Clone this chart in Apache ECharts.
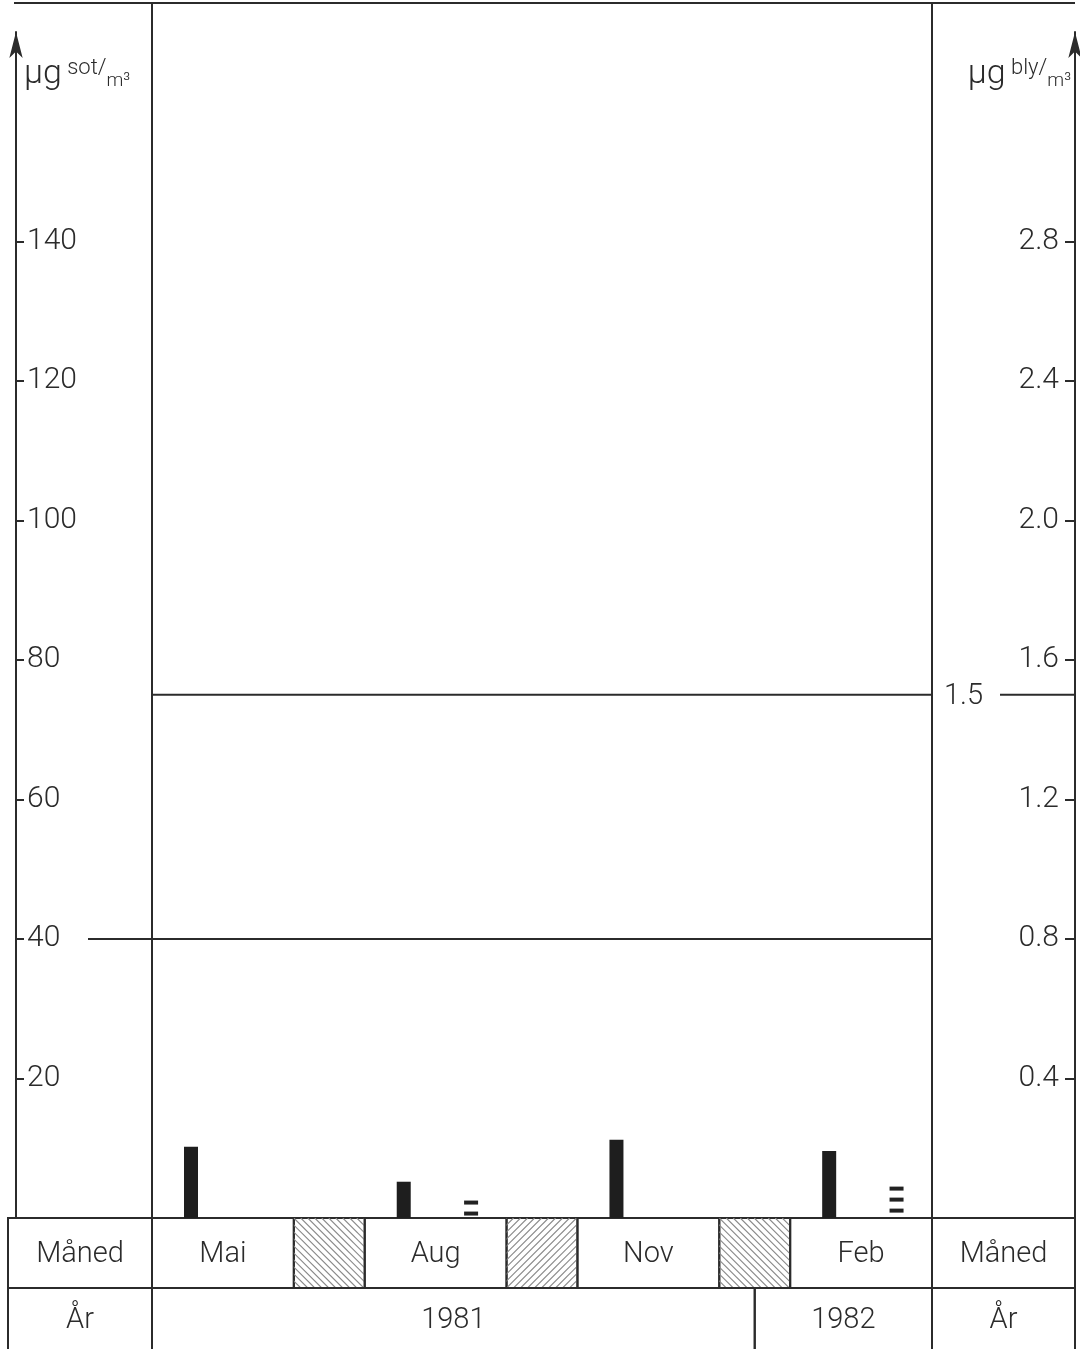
<!DOCTYPE html>
<html>
<head>
<meta charset="utf-8">
<script src="https://cdn.jsdelivr.net/npm/echarts@6/dist/echarts.min.js"></script>
<style>
  html, body { margin: 0; padding: 0; background: #fff; }
  #chart { width: 1080px; height: 1349px; }
</style>
</head>
<body>
<div id="chart"></div>
<script>
// data
var months = ['Mai', 'Aug', 'Nov', 'Feb'];
var years = ['1981', '1982'];
var rowLabels = ['Måned', 'År'];
var sotValues = [10.2, 5.2, 11.2, 9.6];      // µg sot/m3
var blyValues = [null, 0.05, null, 0.09];    // µg bly/m3 (drawn as dashes)
var sotTicks = [20, 40, 60, 80, 100, 120, 140];
var blyTicks = [0.4, 0.8, 1.2, 1.6, 2.0, 2.4, 2.8];
var sotLimit = 40;
var blyLimit = 1.5;

// layout: each month is 2 units wide, the gap between months 1 unit
var yearBreak = 8.5;
var hatchDirs = ['\\', '/', '\\'];
var gridLeft = 152, gridRightX = 932, axisLeftX = 16, axisRightX = 1075;
var ink = '#2b2b2b';
var font = 'Roboto';

var cells = [];
months.forEach(function (m, i) {
  cells.push({ x0: 3 * i, x1: 3 * i + 2, row: 0, text: m });
  if (i < months.length - 1) {
    cells.push({ x0: 3 * i + 2, x1: 3 * i + 3, row: 0, hatch: hatchDirs[i] });
  }
});
cells.push({ x0: 0, x1: yearBreak, row: 1, text: years[0] });
cells.push({ x0: yearBreak, x1: 3 * months.length - 1, row: 1, text: years[1] });
rowLabels.forEach(function (t, r) {
  cells.push({ side: 'left', row: r, text: t });
  cells.push({ side: 'right', row: r, text: t });
});

var rowH = [70, 62];

var chart = echarts.init(document.getElementById('chart'));

function renderTable(params, api) {
  var c = cells[params.dataIndex];
  var base = api.coord([0, 0])[1];
  var xa, xb;
  if (c.side === 'left') {
    xa = 8; xb = api.coord([0, 0])[0];
  } else if (c.side === 'right') {
    xa = api.coord([11, 0])[0]; xb = axisRightX;
  } else {
    xa = api.coord([c.x0, 0])[0]; xb = api.coord([c.x1, 0])[0];
  }
  var ya = base + (c.row === 0 ? 0 : rowH[0]);
  var h = rowH[c.row];
  var children = [{
    type: 'rect',
    shape: { x: xa, y: ya, width: xb - xa, height: h },
    style: { fill: 'none', stroke: ink, lineWidth: 2 }
  }];
  if (c.hatch) {
    var lines = [];
    var w = xb - xa;
    for (var k = -h; k < w + h; k += 7) {
      if (c.hatch === '\\') {
        lines.push({ type: 'line', shape: { x1: xa + k, y1: ya, x2: xa + k + h, y2: ya + h },
          style: { stroke: '#888', lineWidth: 1.1 } });
      } else {
        lines.push({ type: 'line', shape: { x1: xa + k, y1: ya + h, x2: xa + k + h, y2: ya },
          style: { stroke: '#888', lineWidth: 1.1 } });
      }
    }
    children.push({
      type: 'group',
      clipPath: { type: 'rect', shape: { x: xa, y: ya, width: w, height: h } },
      children: lines
    });
  }
  if (c.text) {
    children.push({
      type: 'text',
      style: {
        x: (xa + xb) / 2, y: ya + h / 2 + 2, text: c.text,
        align: 'center', verticalAlign: 'middle',
        fill: ink, font: '300 29px ' + font
      }
    });
  }
  return { type: 'group', children: children };
}

function renderDashes(params, api) {
  var top = api.coord([api.value(0), api.value(1)]);
  var base = api.coord([api.value(0), 0])[1];
  var dashes = [];
  for (var y = top[1]; y < base - 1; y += 11) {
    dashes.push({ type: 'rect', shape: { x: top[0] - 7, y: y, width: 14, height: 4 },
      style: { fill: '#222' } });
  }
  return { type: 'group', children: dashes };
}

function renderSotLimit(params, api) {
  var y = api.coord([0, api.value(1)])[1];
  return { type: 'line', shape: { x1: gridLeft - 64, y1: y, x2: gridRightX, y2: y },
    style: { stroke: ink, lineWidth: 2 } };
}

function renderBlyLimit(params, api) {
  var y = api.coord([0, api.value(1)])[1];
  return {
    type: 'group',
    children: [
      { type: 'line', shape: { x1: gridLeft, y1: y, x2: gridRightX, y2: y },
        style: { stroke: ink, lineWidth: 2 } },
      { type: 'text', style: { x: gridRightX + 12, y: y + 2, text: String(api.value(1)),
        align: 'left', verticalAlign: 'middle', fill: ink, font: '300 29px ' + font } },
      { type: 'line', shape: { x1: gridRightX + 68, y1: y, x2: axisRightX, y2: y },
        style: { stroke: ink, lineWidth: 2 } }
    ]
  };
}

var nameRich = {
  u: { fontSize: 34, fontFamily: font, fontWeight: 300, color: ink },
  s: { fontSize: 22, fontFamily: font, fontWeight: 300, color: ink, verticalAlign: 'top' },
  m: { fontSize: 19, fontFamily: font, fontWeight: 300, color: ink, verticalAlign: 'bottom' }
};

chart.setOption({
  backgroundColor: '#fff',
  animation: false,
  grid: { left: gridLeft, right: 1080 - gridRightX, top: 32, bottom: 131 },
  xAxis: { type: 'value', min: 0, max: 11, show: false },
  yAxis: [{
    type: 'value', position: 'left', offset: gridLeft - axisLeftX,
    min: 0, max: 170,
    name: '{u|µg}{s| sot/}{m|m³}',
    nameLocation: 'end', nameGap: -42,
    nameTextStyle: { align: 'left', verticalAlign: 'middle', padding: [0, 0, 0, 8], rich: nameRich },
    axisLine: { show: true, onZero: false, symbol: ['none', 'arrow'], symbolSize: [10, 26],
      lineStyle: { color: ink, width: 2 } },
    axisTick: { show: true, inside: true, length: 8, customValues: sotTicks,
      lineStyle: { color: ink, width: 2 } },
    axisLabel: { inside: true, margin: 11, customValues: sotTicks,
      color: ink, fontSize: 30, fontFamily: font, fontWeight: 300 },
    splitLine: { show: false }
  }, {
    type: 'value', position: 'right', offset: axisRightX - gridRightX,
    min: 0, max: 3.4,
    name: '{u|µg}{s| bly/}{m|m³}',
    nameLocation: 'end', nameGap: -42,
    nameTextStyle: { align: 'right', verticalAlign: 'middle', padding: [0, 4, 0, 0], rich: nameRich },
    axisLine: { show: true, onZero: false, symbol: ['none', 'arrow'], symbolSize: [10, 26],
      lineStyle: { color: ink, width: 2 } },
    axisTick: { show: true, inside: true, length: 10, customValues: blyTicks,
      lineStyle: { color: ink, width: 2 } },
    axisLabel: { inside: true, margin: 16, customValues: blyTicks,
      formatter: function (v) { return v.toFixed(1); },
      color: ink, fontSize: 30, fontFamily: font, fontWeight: 300 },
    splitLine: { show: false }
  }],
  graphic: [
    { type: 'line', shape: { x1: 14, y1: 3, x2: axisRightX, y2: 3 }, style: { stroke: ink, lineWidth: 2 } },
    { type: 'line', shape: { x1: gridLeft, y1: 3, x2: gridLeft, y2: 1349 }, style: { stroke: ink, lineWidth: 2 } },
    { type: 'line', shape: { x1: gridRightX, y1: 3, x2: gridRightX, y2: 1349 }, style: { stroke: ink, lineWidth: 2 } }
  ],
  series: [{
    name: 'sot',
    type: 'bar',
    yAxisIndex: 0,
    barWidth: 14,
    itemStyle: { color: '#1e1e1e' },
    data: sotValues.map(function (v, i) { return [3 * i + 0.55, v]; })
  }, {
    name: 'bly',
    type: 'custom',
    yAxisIndex: 1,
    clip: false,
    renderItem: renderDashes,
    data: blyValues.map(function (v, i) { return v == null ? null : [3 * i + 1.5, v]; })
      .filter(function (d) { return d; })
  }, {
    name: 'sotLimit',
    type: 'custom',
    yAxisIndex: 0,
    clip: false,
    renderItem: renderSotLimit,
    data: [[0, sotLimit]]
  }, {
    name: 'blyLimit',
    type: 'custom',
    yAxisIndex: 1,
    clip: false,
    renderItem: renderBlyLimit,
    data: [[0, blyLimit]]
  }, {
    name: 'table',
    type: 'custom',
    clip: false,
    silent: true,
    renderItem: renderTable,
    encode: { x: 0, y: 1 },
    data: cells.map(function () { return [0, 0]; })
  }]
});
</script>
</body>
</html>
